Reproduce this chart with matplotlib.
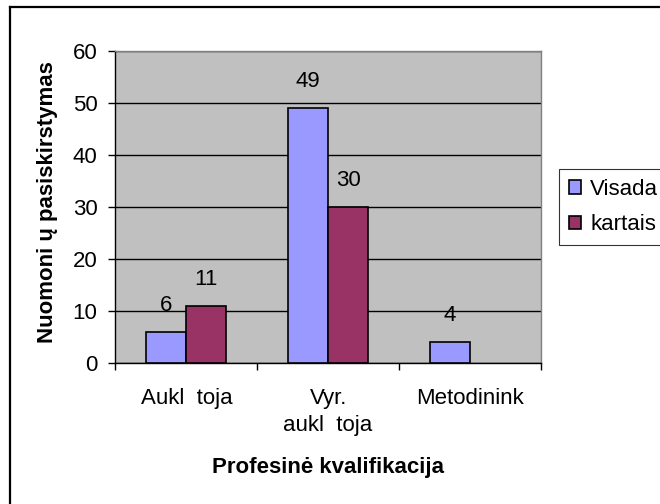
import numpy as np
import matplotlib
matplotlib.use('Agg')
import matplotlib.pyplot as plt
from matplotlib.lines import Line2D

plt.rcParams['font.family'] = ['Liberation Sans', 'DejaVu Sans']

# duomenys
categories = ['Aukl  toja', 'Vyr.\naukl  toja', 'Metodinink']
visada = [6, 49, 4]
kartais = [11, 30, 0]
series_names = ['Visada', 'kartais']
yticks = [0, 10, 20, 30, 40, 50, 60]

fs = 16

fig = plt.figure(figsize=(6.6, 5.04), dpi=100)
ax = fig.add_axes([115.5 / 660, 1 - 363 / 504, 425.2 / 660, 312 / 504])
ax.set_facecolor('#C0C0C0')

x = np.arange(len(categories))
w = 0.283
b1 = ax.bar(x - w / 2, visada, w, color='#9999FF', edgecolor='black', linewidth=1.2,
            label=series_names[0], zorder=3)
kx = [xi + w / 2 for xi, v in zip(x, kartais) if v > 0]
kv = [v for v in kartais if v > 0]
b2 = ax.bar(kx, kv, w, color='#993366', edgecolor='black', linewidth=1.2,
            label=series_names[1], zorder=3)

# reiksmes virs stulpeliu
for xi, v in zip(x, visada):
    ax.annotate(str(v), (xi - w / 2, v), xytext=(0, 19), textcoords='offset points',
                ha='center', va='center', fontsize=fs)
for xi, v in zip(kx, kv):
    ax.annotate(str(v), (xi, v), xytext=(0, 19), textcoords='offset points',
                ha='center', va='center', fontsize=fs)

ax.set_ylim(0, 60)
ax.set_xlim(-0.5, 2.5)
ax.set_yticks(yticks)
ax.yaxis.grid(True, color='black', linewidth=1.0, zorder=1)
ax.set_axisbelow(True)
ax.tick_params(axis='y', labelsize=fs, length=5, width=1, pad=8, direction='out')

# x asis: padalos tarp kategoriju
ax.set_xticks([-0.5, 0.5, 1.5, 2.5])
ax.set_xticklabels([])
ax.set_xticks(x, minor=True)
ax.set_xticklabels(categories, minor=True, fontsize=fs, linespacing=1.35)
ax.tick_params(axis='x', which='major', length=5, width=1, direction='out')
ax.tick_params(axis='x', which='minor', length=0, pad=18)

for s in ['left', 'bottom']:
    ax.spines[s].set_color('black')
    ax.spines[s].set_linewidth(1.0)
for s in ['top', 'right']:
    ax.spines[s].set_color('#808080')
    ax.spines[s].set_linewidth(1.0)

fig.text(48 / 660, 1 - 202 / 504, 'Nuomoni ų pasiskirstymas', rotation=90,
         ha='center', va='center', fontsize=fs, fontweight='bold')
fig.text(327.5 / 660, 1 - 467 / 504, 'Profesinė kvalifikacija',
         ha='center', va='center', fontsize=fs, fontweight='bold')

leg = fig.legend(handles=[b1, b2], labels=series_names, loc='upper left',
                 bbox_to_anchor=(559 / 660, 1 - 169 / 504), borderaxespad=0,
                 fontsize=fs, frameon=True, fancybox=False, shadow=False,
                 handlelength=0.55, handleheight=0.55, handletextpad=0.4,
                 labelspacing=0.65, borderpad=0.45)
leg.get_frame().set_edgecolor('black')
leg.get_frame().set_linewidth(0.8)

# remelis aplink diagrama
fig.add_artist(Line2D([10.5 / 660, 10.5 / 660], [-0.1, 1 - 6.5 / 504],
                      transform=fig.transFigure, color='black', linewidth=1.6))
fig.add_artist(Line2D([10.5 / 660, 1.1], [1 - 6.5 / 504, 1 - 6.5 / 504],
                      transform=fig.transFigure, color='black', linewidth=1.6))

fig.savefig('out.png', dpi=100)
